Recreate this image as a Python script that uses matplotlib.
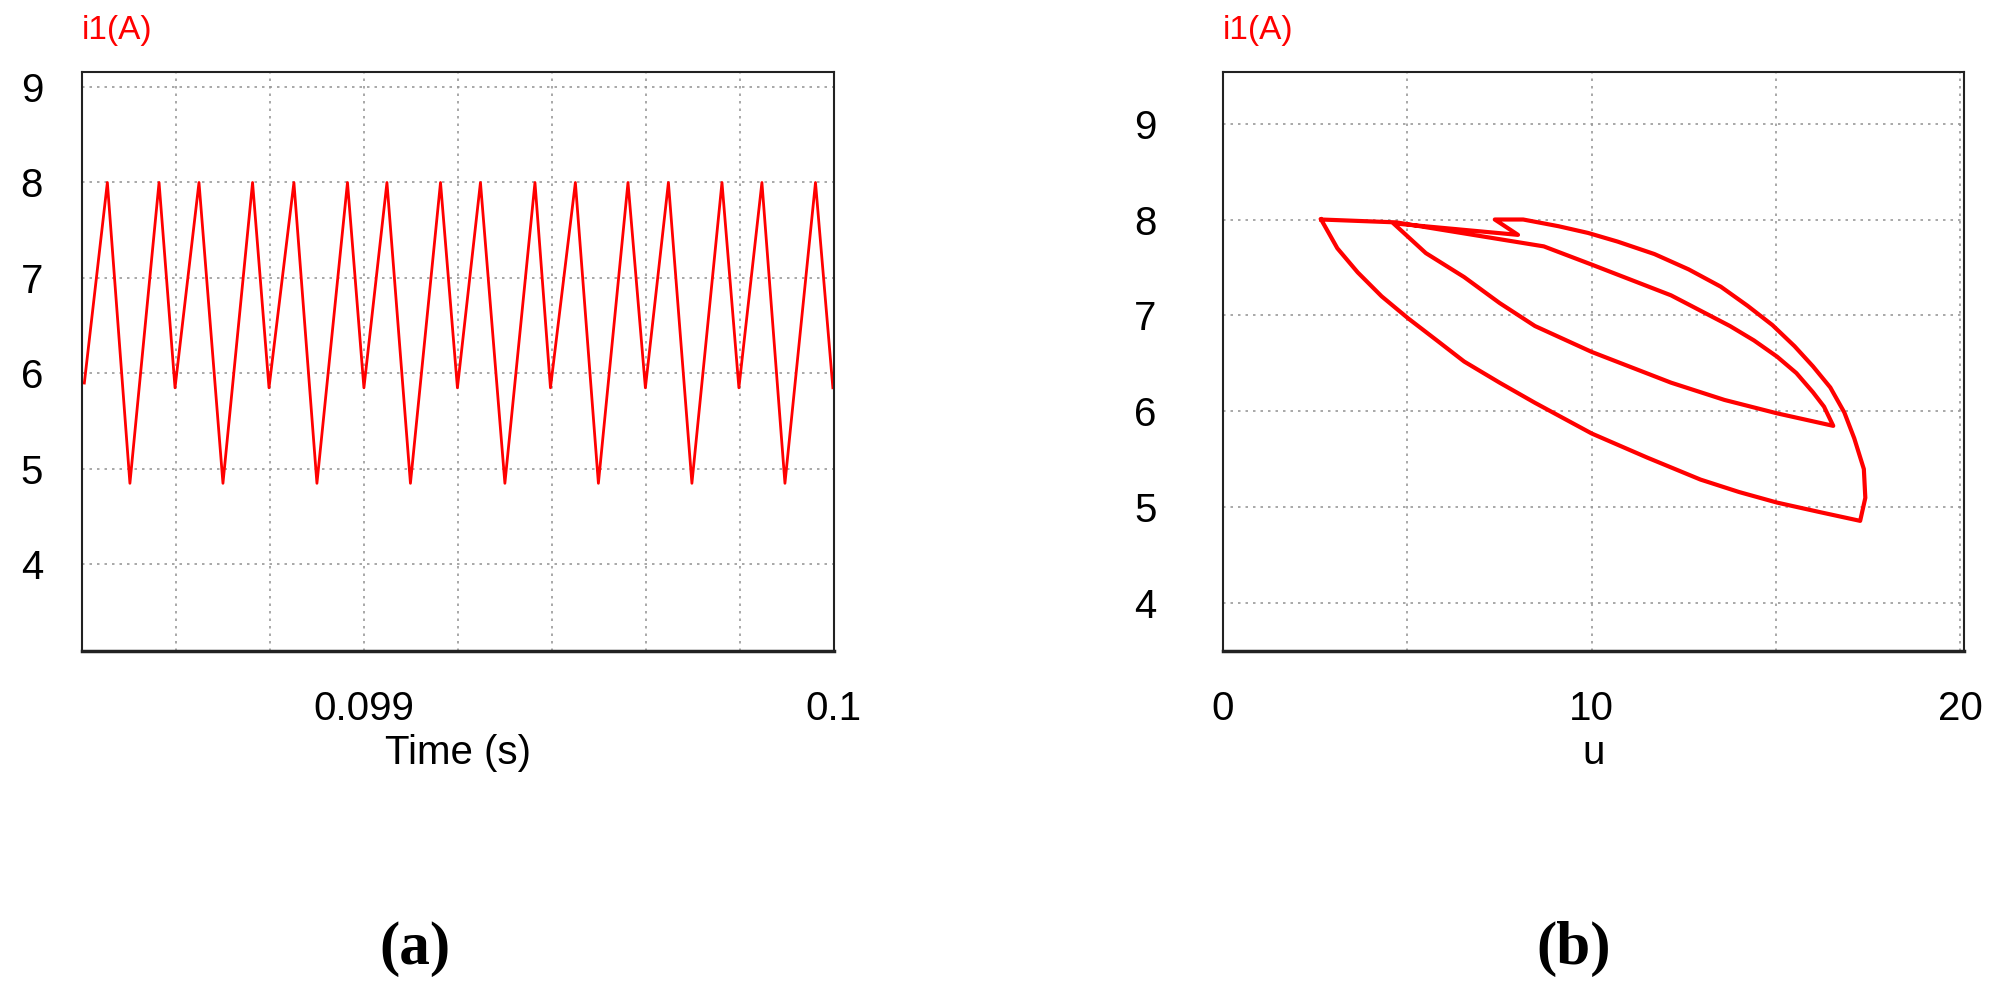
import matplotlib

matplotlib.use("Agg")
import matplotlib.pyplot as plt
from matplotlib.ticker import FixedLocator

plt.rcParams["font.family"] = ["Liberation Sans", "DejaVu Sans"]

RED = "#ff0000"

# (a) current waveform vertices
time_s = [0.098405, 0.098454, 0.098502, 0.098564, 0.098598, 0.098649, 0.098700,
          0.098763, 0.098798, 0.098851, 0.098900, 0.098965, 0.099000, 0.099049,
          0.099099, 0.099163, 0.099199, 0.099248, 0.099300, 0.099364, 0.099397,
          0.099450, 0.099499, 0.099562, 0.099599, 0.099648, 0.099698, 0.099762,
          0.099798, 0.099847, 0.099896, 0.099961, 0.099998]
i1_a = [5.9, 8.0, 4.85, 8.0, 5.85, 8.0, 4.85, 8.0, 5.85, 8.0, 4.85, 8.0, 5.85,
        8.0, 4.85, 8.0, 5.85, 8.0, 4.85, 8.0, 5.85, 8.0, 4.85, 8.0, 5.85, 8.0,
        4.85, 8.0, 5.85, 8.0, 4.85, 8.0, 5.85]

# (b) phase trajectory i1 vs u
u_b = [2.66, 3.1, 3.65, 4.3, 5.02, 5.8, 6.54, 7.5, 8.46, 10.0, 11.5, 12.95, 14.0, 15.03, 16.2, 17.28,
       17.42, 17.38, 17.12, 16.85, 16.47, 16.0, 15.5, 14.9, 14.23, 13.5, 12.63, 11.7, 10.7, 9.9, 9.1, 8.14,
       7.37, 8.0,
       4.62, 5.5, 6.54, 7.5, 8.46, 10.0, 12.15, 13.6, 15.03, 16.55,
       16.3, 16.0, 15.55, 15.03, 14.4, 13.75, 12.15, 10.0, 8.7, 4.7, 2.66]
i1_b = [8.0, 7.7, 7.45, 7.2, 6.97, 6.74, 6.52, 6.3, 6.09, 5.77, 5.52, 5.29, 5.16, 5.05, 4.95, 4.86,
        5.1, 5.4, 5.72, 5.99, 6.25, 6.47, 6.68, 6.9, 7.1, 7.3, 7.48, 7.64, 7.77, 7.86, 7.93, 8.0,
        8.0, 7.84,
        7.96, 7.65, 7.4, 7.13, 6.89, 6.62, 6.3, 6.12, 5.98, 5.85,
        6.05, 6.2, 6.4, 6.57, 6.74, 6.89, 7.21, 7.53, 7.72, 7.97, 8.0]

y_ticks = [4, 5, 6, 7, 8, 9]

fig = plt.figure(figsize=(19.9, 9.96), dpi=100)
ax_a = fig.add_axes([0.0412, 0.346, 0.3778, 0.582])
ax_b = fig.add_axes([0.6146, 0.346, 0.3724, 0.582])


def style(ax, ypad, xpad):
    ax.grid(True, which="both", color="#999999", linestyle=(0, (1.5, 3)), linewidth=1.2)
    ax.tick_params(which="both", length=0, labelsize=29)
    ax.tick_params(axis="y", pad=ypad)
    ax.tick_params(axis="x", pad=xpad)
    for sp in ax.spines.values():
        sp.set_color("#222222")
        sp.set_linewidth(1.5)
    ax.spines["bottom"].set_linewidth(2.5)
    ax.text(0.0, 1.045, "i1(A)", transform=ax.transAxes, color=RED, fontsize=24,
            ha="left", va="bottom")


ax_a.plot(time_s, i1_a, color=RED, linewidth=2.0)
ax_a.set_xlim(0.0984, 0.1)
ax_a.set_ylim(3.09, 9.16)
ax_a.set_xticks([0.099, 0.1])
ax_a.set_xticklabels(["0.099", "0.1"])
ax_a.xaxis.set_minor_locator(FixedLocator([0.0986, 0.0988, 0.0992, 0.0994, 0.0996, 0.0998]))
ax_a.set_yticks(y_ticks)
ax_a.set_xlabel("Time (s)", fontsize=29, labelpad=4)
style(ax_a, 28, 28)

ax_b.plot(u_b, i1_b, color=RED, linewidth=3.0)
ax_b.set_xlim(0, 20.1)
ax_b.set_ylim(3.5, 9.54)
ax_b.set_xticks([0, 10, 20])
ax_b.xaxis.set_minor_locator(FixedLocator([5, 15]))
ax_b.set_yticks(y_ticks)
ax_b.set_xlabel("u", fontsize=29, labelpad=4)
style(ax_b, 48, 28)

fig.text(0.2085, 0.047, "(a)", fontsize=44, fontweight="bold", family="Liberation Serif",
         ha="center", va="center")
fig.text(0.791, 0.047, "(b)", fontsize=44, fontweight="bold", family="Liberation Serif",
         ha="center", va="center")

fig.savefig("out.png", dpi=100)
